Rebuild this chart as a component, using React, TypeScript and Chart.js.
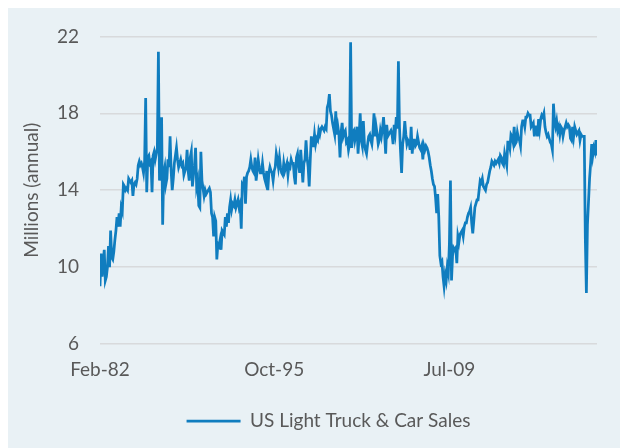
import { useEffect, useRef } from "react";
import { Chart, registerables } from "chart.js";

Chart.register(...registerables);

// Monthly US light vehicle sales, SAAR, millions (Feb-1982 .. Feb-2021)
const SALES_1980S = [
  // 1982 (Feb-Dec)
  9.0, 10.7, 9.5, 10.2, 10.9, 9.3, 9.5, 10.0, 11.1, 10.0, 11.9,
  // 1983
  10.5, 10.4, 10.8, 11.4, 11.9, 12.6, 12.1, 12.8, 12.1, 13.1, 12.9, 14.3,
  // 1984
  14.2, 14.0, 14.1, 14.0, 14.6, 14.5, 14.4, 14.5, 13.7, 14.3, 14.4, 14.3,
  // 1985
  14.6, 15.3, 15.5, 15.3, 15.4, 15.2, 14.9, 15.5, 18.8, 13.9, 15.7, 15.8,
  // 1986
  15.4, 15.5, 13.9, 15.8, 16.0, 15.6, 15.9, 16.2, 21.2, 14.5, 15.2, 17.8,
  // 1987
  12.2, 14.9, 15.2, 14.3, 14.6, 15.6, 15.2, 16.8, 15.0, 14.0, 14.6, 15.4,
  // 1988
  15.8, 16.2, 15.6, 15.2, 15.4, 15.6, 15.3, 15.4, 14.8, 15.0, 15.2, 16.1,
  // 1989
  15.0, 14.5, 15.7, 16.0, 14.2, 14.8, 15.3, 16.2, 14.2, 14.5, 13.2, 13.1,
];

const SALES_1990S = [
  16.0, 14.5, 14.1, 13.7, 14.0, 13.8, 13.9, 14.0, 14.1, 13.9, 12.8, 12.6,
  11.6, 12.6, 12.4, 10.4, 11.2, 11.1, 11.4, 10.9, 11.9, 11.8, 11.7, 12.6,
  12.1, 12.8, 12.3, 13.1, 13.5, 13.0, 13.3, 13.2, 13.5, 13.1, 13.3, 13.5,
  13.1, 13.3, 12.0, 14.3, 14.2, 14.7, 13.3, 14.7, 14.9, 15.0, 15.2, 15.6,
  15.2, 15.0, 14.9, 15.7, 14.5, 15.0, 15.6, 15.2, 14.9, 14.9, 15.4, 14.9,
  14.6, 14.4, 15.0, 14.0, 14.9, 15.2, 15.0, 14.9, 14.5, 15.0, 15.2, 15.9,
  15.6, 15.2, 15.7, 15.2, 14.9, 14.8, 15.4, 15.0, 15.2, 15.4, 14.8, 15.3,
  15.2, 15.6, 15.4, 15.4, 14.7, 14.3, 15.7, 15.9, 15.3, 14.9, 16.1, 15.3,
  14.4, 15.4, 15.6, 16.6, 15.7, 15.2, 14.2, 15.6, 16.8, 16.3, 16.3, 16.9,
  16.4, 16.7, 16.6, 17.1, 16.9, 17.2, 17.3, 17.2, 17.1, 17.3, 17.2, 18.3,
];

const SALES_2000S = [
  18.5, 19.0, 18.1, 17.9, 17.5, 17.2, 16.9, 18.1, 16.9, 17.3, 16.9, 15.7,
  17.0, 17.5, 16.8, 17.0, 17.1, 16.5, 16.6, 16.1, 16.4, 21.7, 16.2, 17.0,
  17.1, 16.6, 16.9, 17.3, 15.9, 16.8, 18.0, 16.6, 16.3, 17.6, 16.4, 16.1,
  15.9, 16.4, 16.8, 16.9, 16.6, 16.4, 17.0, 18.0, 16.8, 17.3, 16.9, 16.4,
  16.6, 17.1, 16.8, 17.2, 17.8, 16.9, 15.9, 17.4, 16.8, 16.9, 17.0, 17.1,
  16.9, 16.4, 17.4, 17.0, 17.8, 17.2, 20.7, 17.3, 16.0, 14.9, 16.4, 16.8,
  17.6, 16.9, 16.4, 16.6, 16.5, 16.1, 17.3, 15.9, 16.6, 16.6, 16.3, 16.4,
  16.8, 16.5, 16.2, 16.1, 16.3, 15.6, 16.3, 16.1, 16.3, 16.2, 16.0, 15.7,
  15.3, 15.0, 14.6, 14.3, 14.2, 13.6, 12.8, 13.8, 12.6, 10.6, 10.2, 10.3,
  9.5, 9.0, 9.6, 9.3, 10.0, 9.7, 11.2, 14.5, 9.3, 10.6, 11.0, 10.9,
];

const SALES_2010S = [
  11.0, 10.2, 11.6, 11.3, 11.7, 11.8, 11.9, 11.6, 12.1, 12.3, 12.3, 12.6,
  12.8, 12.9, 13.1, 12.3, 11.75, 12.4, 13.1, 13.3, 13.5, 13.5, 14.0, 14.5,
  14.4, 14.6, 14.2, 14.1, 14.0, 14.3, 14.4, 14.7, 15.0, 15.2, 15.5, 15.4,
  15.3, 15.5, 15.4, 15.5, 15.6, 15.4, 15.8, 15.7, 15.4, 15.3, 15.9, 15.6,
  15.3, 16.5, 16.5, 16.2, 16.9, 16.8, 16.5, 17.3, 16.4, 16.5, 17.0, 16.7,
  16.6, 16.3, 17.3, 17.6, 17.6, 17.3, 17.8, 17.8, 18.0, 17.9, 17.9, 17.3,
  17.4, 17.5, 16.8, 17.3, 17.3, 16.8, 17.7, 17.2, 17.7, 17.9, 17.8, 18.0,
  17.3, 17.0, 16.8, 16.9, 16.7, 16.5, 16.4, 16.1, 18.5, 17.6, 17.3, 17.6,
  17.1, 17.3, 16.9, 17.3, 17.2, 16.8, 17.1, 17.3, 17.5, 17.3, 17.4, 17.3,
  16.7, 16.6, 17.3, 16.8, 17.3, 17.1, 16.9, 17.0, 17.1, 16.6, 16.9, 16.8,
];

const SALES_2020S = [
  16.8, 16.8, 11.5, 8.65, 12.2, 13.4, 14.6, 15.4, 16.4, 15.8, 16.2, 16.0,
  16.6, 15.8,
];

const SALES = [...SALES_1980S, ...SALES_1990S, ...SALES_2000S, ...SALES_2010S, ...SALES_2020S];

const MONTH_NAMES = ["Jan", "Feb", "Mar", "Apr", "May", "Jun", "Jul", "Aug", "Sep", "Oct", "Nov", "Dec"];
const START_YEAR = 1982;
const START_MONTH = 1; // Feb

const CATEGORIES: string[] = SALES.map((_, i) => {
  const m = START_MONTH + i;
  const y = START_YEAR + Math.floor(m / 12);
  return `${MONTH_NAMES[m % 12]}-${String(y % 100).padStart(2, "0")}`;
});

const TICK_LABELS = ["Feb-82", "Oct-95", "Jul-09"];
const Y_MIN = 6;
const Y_MAX = 22;
const Y_STEP = 4;

const SERIES_NAME = "US Light Truck & Car Sales";
const AXIS_TITLE = "Millions (annual)";

const FONT_FAMILY = "Lato, 'Open Sans', sans-serif";
const FONT_SIZE = 19;
const TEXT_COLOR = "#595959";
const LINE_COLOR = "#107DBF";
const GRID_COLOR = "#D8DADC";
const BG_COLOR = "#E9F1F5";

export default function App() {
  const canvasRef = useRef<HTMLCanvasElement | null>(null);

  useEffect(() => {
    if (!canvasRef.current) return;
    const legendShift = {
      id: "legendShift",
      afterLayout(chart: any) {
        const l = chart.legend;
        if (l) {
          l.left += 20;
          l.right += 20;
        }
      },
    };
    const chart = new Chart(canvasRef.current, {
      type: "line",
      data: {
        labels: CATEGORIES,
        datasets: [
          {
            label: SERIES_NAME,
            data: SALES,
            borderColor: LINE_COLOR,
            backgroundColor: LINE_COLOR,
            borderWidth: 2.75,
            pointRadius: 0,
            pointHoverRadius: 0,
            tension: 0,
            clip: 0,
          },
        ],
      },
      options: {
        animation: false,
        responsive: false,
        events: [],
        layout: { padding: { left: 12, right: 31, top: 28.5, bottom: 7.5 } },
        plugins: {
          tooltip: { enabled: false },
          legend: {
            position: "bottom",
            labels: {
              usePointStyle: true,
              pointStyle: "line",
              pointStyleWidth: 54,
              color: TEXT_COLOR,
              font: { family: FONT_FAMILY, size: FONT_SIZE },
              padding: 10,
            },
          },
        },
        scales: {
          x: {
            type: "category",
            grid: { display: false },
            border: { display: false },
            ticks: {
              autoSkip: false,
              maxRotation: 0,
              minRotation: 0,
              padding: 6,
              color: TEXT_COLOR,
              font: { family: FONT_FAMILY, size: FONT_SIZE },
              callback: (_v: any, i: number) =>
                TICK_LABELS.includes(CATEGORIES[i]) ? CATEGORIES[i] : null,
            },
            afterFit: (s: any) => {
              s.height = 57.5;
            },
          },
          y: {
            min: Y_MIN,
            max: Y_MAX,
            ticks: {
              stepSize: Y_STEP,
              padding: 21,
              color: TEXT_COLOR,
              font: { family: FONT_FAMILY, size: FONT_SIZE },
            },
            grid: { color: GRID_COLOR, lineWidth: 1.6, drawTicks: false },
            border: { display: false },
            title: {
              display: true,
              text: AXIS_TITLE,
              color: TEXT_COLOR,
              font: { family: FONT_FAMILY, size: FONT_SIZE },
              padding: 0,
            },
            afterFit: (s: any) => {
              s.width = 80;
            },
          },
        },
      },
      plugins: [legendShift],
    });
    return () => chart.destroy();
  }, []);

  return (
    <div style={{ width: 620, height: 444, marginTop: -4, background: BG_COLOR }}>
      <canvas ref={canvasRef} width={620} height={444} style={{ display: "block" }} />
    </div>
  );
}
